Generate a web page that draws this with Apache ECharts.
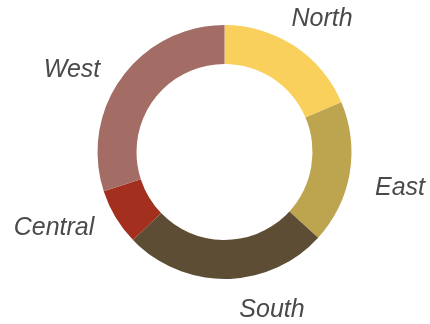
<!DOCTYPE html>
<html>
<head>
<meta charset="utf-8">
<script src="https://cdn.jsdelivr.net/npm/echarts@6/dist/echarts.min.js"></script>
<style>
html,body{margin:0;padding:0;background:#fff;}
#chart{width:430px;height:324px;}
</style>
</head>
<body>
<div id="chart"></div>
<script>
// Data
var categories = ['North', 'East', 'South', 'Central', 'West'];
var values = [18.6, 18.2, 26.0, 7.2, 30.0];

// Styles (not data)
var colors = ['#F9D05B', '#BDA54F', '#5D4D35', '#A3301F', '#A36C64'];
var labelX = [322, 72, 400, 54, 272];
var labelY = [19, 70, 188, 228, 310];
var labelOrder = {North:0, West:1, East:2, Central:3, South:4};

var chart = echarts.init(document.getElementById('chart'), null, {renderer: 'canvas'});
var seriesData = categories.map(function (c, i) {
  return {name: c, value: values[i], itemStyle: {color: colors[i]}};
});
chart.setOption({
  animation: false,
  series: [{
    type: 'pie',
    center: [224.5, 152],
    radius: [88, 127],
    startAngle: 90,
    clockwise: true,
    avoidLabelOverlap: false,
    data: seriesData,
    label: {
      show: true,
      position: 'outside',
      formatter: '{b}',
      fontFamily: 'Liberation Sans, Arial, sans-serif',
      fontStyle: 'italic',
      fontSize: 25,
      color: '#4a4a4a'
    },
    labelLine: {show: false},
    labelLayout: function (params) {
      var k = labelOrder[categories[params.dataIndex]];
      return {x: labelX[k], y: labelY[k], align: 'center', verticalAlign: 'middle'};
    },
    emphasis: {disabled: true}
  }]
});
</script>
</body>
</html>
